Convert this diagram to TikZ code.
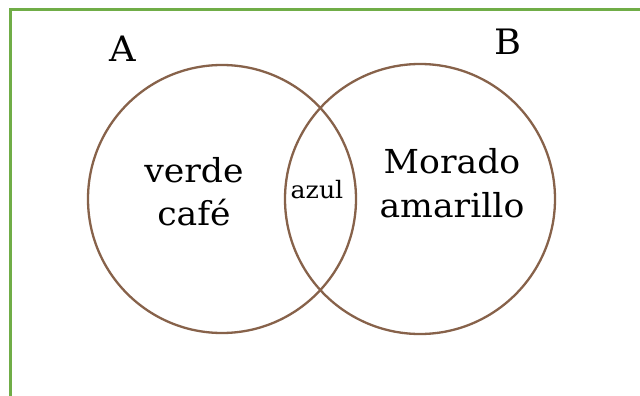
\documentclass[tikz,border=0pt]{standalone}
\usepackage{fontspec}
\setmainfont{DejaVu Serif}
\newfontfamily\wideserif[FakeStretch=1.05]{DejaVu Serif}
\definecolor{framegreen}{RGB}{112,173,71}
\definecolor{ringbrown}{RGB}{135,98,74}
\begin{document}
\begin{tikzpicture}[x=1pt,y=-1pt,
  ring/.style={draw=ringbrown,line width=2.3pt},
  bigtxt/.style={anchor=base,inner sep=0pt,font=\wideserif\fontsize{33}{33}\selectfont},
  smalltxt/.style={anchor=base,inner sep=0pt,font=\wideserif\fontsize{24}{24}\selectfont},
  lettertxt/.style={anchor=base,inner sep=0pt,font=\wideserif\fontsize{35}{35}\selectfont}]
\useasboundingbox (0,0) rectangle (640,396);
\fill[white] (0,0) rectangle (640,396);
\coordinate (fb) at (10,396);
\coordinate (fc) at (10,9.5);
\coordinate (fr) at (640,9.5);
\draw[framegreen,line width=3pt] (fb) -- (fc) -- (fr);
\node[ring,circle,minimum size=268pt,inner sep=0pt] (cA) at (222,199) {};
\node[ring,circle,minimum size=270pt,inner sep=0pt] (cB) at (420,199) {};
\node[lettertxt] (lA) at (123,62) {A};
\node[lettertxt] (lB) at (508,55) {B};
\node[bigtxt] (t1) at (194,182) {verde};
\node[bigtxt] (t2) at (194,225) {café};
\node[smalltxt] (t3) at (317,198) {azul};
\node[bigtxt] (t4) at (452,173) {Morado};
\node[bigtxt] (t5) at (452,217) {amarillo};
\end{tikzpicture}
\end{document}
